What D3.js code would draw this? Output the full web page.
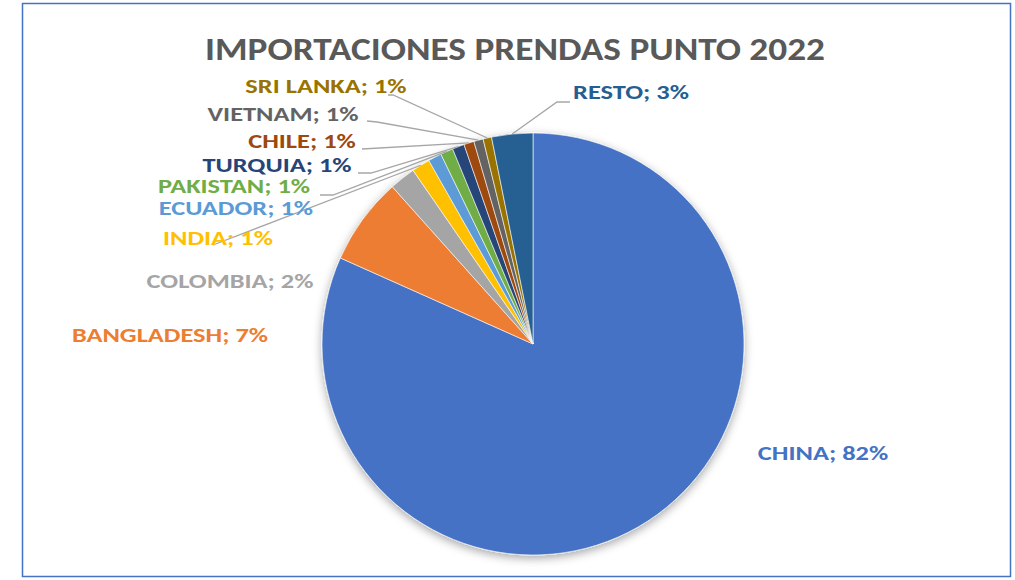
<!DOCTYPE html>
<html>
<head>
<meta charset="utf-8">
<script src="https://cdn.jsdelivr.net/npm/d3@7"></script>
<style>
  body { margin: 0; background: #fff; }
  text { font-family: Carlito, Calibri, Lato, sans-serif; font-weight: bold; }
</style>
</head>
<body>
<div id="chart"></div>
<script>
const countries = ['CHINA', 'BANGLADESH', 'COLOMBIA', 'INDIA', 'ECUADOR', 'PAKISTAN',
  'TURQUIA', 'CHILE', 'VIETNAM', 'SRI LANKA', 'RESTO'];
const shares = [81.7, 6.7, 2.0, 1.4, 1.03, 0.97, 0.92, 0.78, 0.72, 0.65, 3.15];
const pctLabels = ['82%', '7%', '2%', '1%', '1%', '1%', '1%', '1%', '1%', '1%', '3%'];
const colors = ['#4472C4', '#ED7D31', '#A5A5A5', '#FFC000', '#5B9BD5', '#70AD47',
  '#264478', '#9E480E', '#636363', '#997300', '#255E91'];

// label placement (text centre, baseline) and leader start
const labelPos = [
  [823, 460], [170, 342], [230, 288], [218, 245], [236, 215], [234, 193],
  [277, 172], [302, 148], [283, 121], [326, 93], [631, 99]
];
const leaderStart = [
  null, null, null, [[213, 245]], null, [[320, 195], [333, 195]],
  [[358, 173], [371, 173]], [[362, 149]], [[367, 121], [377, 122]],
  [[388, 95], [393, 95]], [[570, 102], [557, 102]]
];

const width = 1015, height = 580;
const cx = 533, cy = 344, r = 211;
const stretch = 1.32;   // fallback font is narrower than the original one

const svg = d3.select('#chart').append('svg')
  .attr('width', width)
  .attr('height', height);

const defs = svg.append('defs');
const shadow = defs.append('filter').attr('id', 'shadow')
  .attr('x', '-20%').attr('y', '-20%').attr('width', '140%').attr('height', '140%');
shadow.append('feDropShadow')
  .attr('dx', 0).attr('dy', 3)
  .attr('stdDeviation', 5)
  .attr('flood-color', '#000')
  .attr('flood-opacity', 0.35);

// frame
svg.append('rect')
  .attr('x', 22.5).attr('y', 3.5)
  .attr('width', 988).attr('height', 573)
  .attr('fill', '#fff')
  .attr('stroke', '#4472C4')
  .attr('stroke-width', 1.5);

// title
const title = svg.append('text')
  .attr('x', 515).attr('y', 60)
  .attr('text-anchor', 'middle')
  .attr('fill', '#595959')
  .style('font-size', '32px')
  .text('IMPORTACIONES PRENDAS PUNTO 2022');
title.attr('textLength', 620).attr('lengthAdjust', 'spacingAndGlyphs');

const data = countries.map((c, i) => ({ name: c, value: shares[i], pct: pctLabels[i], color: colors[i] }));

const pie = d3.pie().sort(null).value(d => d.value);
const arcs = pie(data);
const arc = d3.arc().innerRadius(0).outerRadius(r);
const rimArc = d3.arc().innerRadius(r).outerRadius(r);

const g = svg.append('g').attr('transform', 'translate(' + cx + ',' + cy + ')');

g.append('g')
  .attr('filter', 'url(#shadow)')
  .selectAll('path')
  .data(arcs)
  .join('path')
  .attr('d', arc)
  .attr('fill', d => d.data.color)
  .attr('stroke', '#fff')
  .attr('stroke-width', 0.6);

// leader lines
const line = d3.line();
arcs.forEach((a, i) => {
  if (!leaderStart[i]) return;
  const end = rimArc.centroid(a);
  const pts = leaderStart[i].concat([[end[0] + cx, end[1] + cy]]);
  svg.append('path')
    .attr('d', line(pts))
    .attr('fill', 'none')
    .attr('stroke', '#A6A6A6')
    .attr('stroke-width', 1.3);
});

// labels
svg.append('g')
  .selectAll('text')
  .data(arcs)
  .join('text')
  .attr('x', (d, i) => labelPos[i][0])
  .attr('y', (d, i) => labelPos[i][1])
  .attr('text-anchor', 'middle')
  .attr('fill', d => d.data.color)
  .style('font-size', '20px')
  .text(d => d.data.name + '; ' + d.data.pct)
  .each(function() {
    const w = this.getComputedTextLength();
    d3.select(this)
      .attr('textLength', w * stretch)
      .attr('lengthAdjust', 'spacingAndGlyphs');
  });
</script>
</body>
</html>
